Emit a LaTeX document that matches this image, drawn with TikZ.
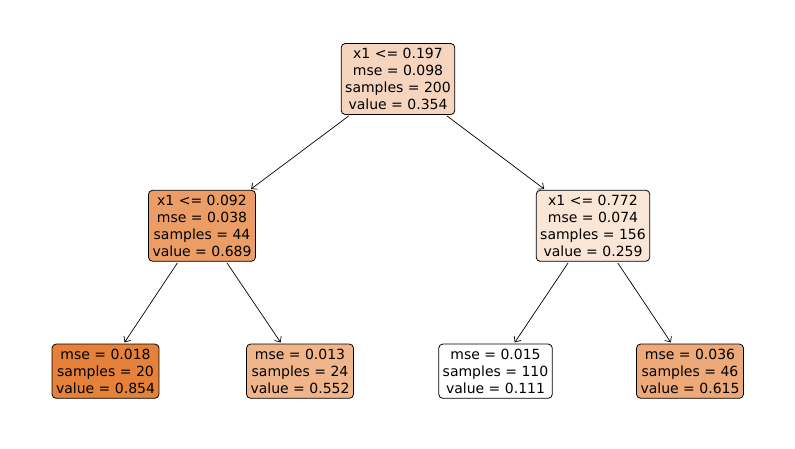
\documentclass[tikz,border=0pt]{standalone}
\usepackage{fontspec}
\setmainfont{DejaVu Sans}
\usetikzlibrary{arrows.meta,positioning,calc}

\definecolor{sk}{HTML}{E58139}
\tikzset{
  tnode/.style={draw=black,line width=0.8pt,rectangle,rounded corners=4pt,align=center,
    inner xsep=4pt,inner ysep=5pt,font=\fontsize{14}{16.8}\selectfont},
  edge/.style={-{Straight Barb[length=4.5pt,width=8pt]},line width=0.7pt,shorten >=1.5pt,shorten <=1.5pt}
}

\begin{document}
\begin{tikzpicture}[x=1pt,y=-1pt]
      \useasboundingbox (0,0) rectangle (795,449);

      \node[tnode,fill=sk!33!white] (root) at (398,79) {x1 <= 0.197\\mse = 0.098\\samples = 200\\value = 0.354};

      \node[tnode,fill=sk!78!white,below = 75pt of root,xshift=-196pt] (m0) {x1 <= 0.092\\mse = 0.038\\samples = 44\\value = 0.689};
      \node[tnode,fill=sk!20!white,below = 75pt of root,xshift=195pt] (m1) {x1 <= 0.772\\mse = 0.074\\samples = 156\\value = 0.259};

      \draw[edge] (root)--(m0);
      \draw[edge] (root)--(m1);

      \node[tnode,fill=sk,below = 82pt of m0,xshift=-96.5pt] (l0) {mse = 0.018\\samples = 20\\value = 0.854};
      \node[tnode,fill=sk!59!white,below = 82pt of m0,xshift=98pt] (l1) {mse = 0.013\\samples = 24\\value = 0.552};
      \node[tnode,fill=white,below = 82pt of m1,xshift=-97.5pt] (l2) {mse = 0.015\\samples = 110\\value = 0.111};
      \node[tnode,fill=sk!68!white,below = 82pt of m1,xshift=97pt] (l3) {mse = 0.036\\samples = 46\\value = 0.615};

      \draw[edge] (m0)--(l0);
      \draw[edge] (m0)--(l1);
      \draw[edge] (m1)--(l2);
      \draw[edge] (m1)--(l3);

\end{tikzpicture}
\end{document}
